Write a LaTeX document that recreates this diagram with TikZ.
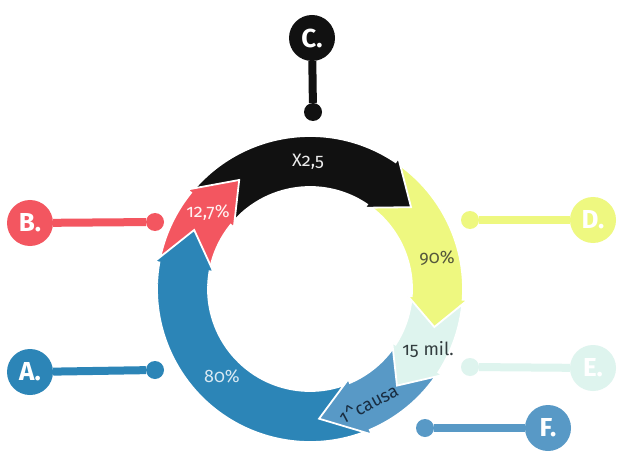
\documentclass[tikz,border=0pt]{standalone}
\usepackage{fontspec}
\setmainfont{Fira Sans}[Numbers=OldStyle]
\definecolor{cblue}{RGB}{44,133,183}
\definecolor{cred}{RGB}{243,86,96}
\definecolor{cblack}{RGB}{17,17,17}
\definecolor{cyellow}{RGB}{238,248,128}
\definecolor{ccyan}{RGB}{222,244,238}
\definecolor{cmid}{RGB}{88,153,198}
\definecolor{tolive}{RGB}{85,88,60}
\definecolor{tgrey}{RGB}{50,60,62}
\definecolor{tnavy}{RGB}{25,45,65}
\definecolor{tpale}{RGB}{215,232,242}
\def\Ro{153}
\def\Ri{102}
\def\Rbo{158}
\def\Rbi{98}
\def\Rm{130}
% color, tail angle, head base angle, tip angle
\newcommand\ringarrow[4]{%
  \path[fill=#1, draw=white, line width=1.8pt, line join=miter]
    (#2:\Ro) arc[start angle=#2, end angle=#3, radius=\Ro]
    -- (#3:\Rbo) -- (#4:\Rm) -- (#3:\Rbi) -- (#3:\Ri)
    arc[start angle=#3, end angle=#2, radius=\Ri] -- cycle;}
\begin{document}
\begin{tikzpicture}[x=1pt,y=1pt,
  lettercirc/.style={circle, minimum size=46pt, inner sep=0pt, text=white,
    font=\fontsize{26}{26}\selectfont\bfseries},
  dotnode/.style={circle, minimum size=18pt, inner sep=0pt},
  link/.style={line width=8pt},
  ringlabel/.style={font=\fontsize{18}{18}\selectfont, inner sep=0pt}]
\useasboundingbox (0,0) rectangle (617,450);
\fill[white] (0,0) rectangle (617,450);

% ring of arrows
\begin{scope}[shift={(310,161)}]
  \ringarrow{cblue}{300}{170}{153}
  \ringarrow{cmid}{-30}{-67}{-86}
  \ringarrow{ccyan}{0}{-33}{-48}
  \ringarrow{cyellow}{60}{-4}{-17}
  \ringarrow{cblack}{145}{56}{39}
  \ringarrow{cred}{172}{141}{123}
  % blue head again, on top of the red tail
  \path[fill=cblue, draw=white, line width=1.8pt, line join=miter]
    (178:\Ro) arc[start angle=178, end angle=170, radius=\Ro]
    -- (170:\Rbo) -- (153:\Rm) -- (170:\Rbi) -- (170:\Ri)
    arc[start angle=170, end angle=178, radius=\Ri];
\end{scope}

% ring labels
\node[ringlabel, text=white!92!black] (lx) at (308,288) {X2,5};
\node[ringlabel, text=white!95!red] (lb) at (208,237) {12,7\%};
\node[ringlabel, text=tolive] (ld) at (437,192) {90\%};
\node[ringlabel, text=tgrey] (le) at (428,100) {15 mil.};
\node[ringlabel, text=tpale] (la) at (222,74) {80\%};
\node[ringlabel, text=tnavy, rotate=28] (lf) at (368,47) {1\textasciicircum causa};

% letter callouts
\node[lettercirc, fill=cblack] (C) at (312,412) {C.};
\node[dotnode, fill=cblack] (Cdot) at (313,338) {};
\draw[link, cblack] (C) -- (Cdot);

\node[lettercirc, fill=cred] (B) at (30,227) {B.};
\node[dotnode, fill=cred] (Bdot) at (155,228) {};
\draw[link, cred] (B) -- (Bdot);

\node[lettercirc, fill=cblue] (A) at (30,78) {A.};
\node[dotnode, fill=cblue] (Adot) at (155,80) {};
\draw[link, cblue] (A) -- (Adot);

\node[lettercirc, fill=cyellow] (D) at (593,230) {D.};
\node[dotnode, fill=cyellow] (Ddot) at (470,230) {};
\draw[link, cyellow] (D) -- (Ddot);

\node[lettercirc, fill=ccyan] (E) at (593,82) {E.};
\node[dotnode, fill=ccyan] (Edot) at (470,83) {};
\draw[link, ccyan] (E) -- (Edot);

\node[lettercirc, fill=cmid] (F) at (548,22) {F.};
\node[dotnode, fill=cmid] (Fdot) at (425,22) {};
\draw[link, cmid] (F) -- (Fdot);
\end{tikzpicture}
\end{document}
